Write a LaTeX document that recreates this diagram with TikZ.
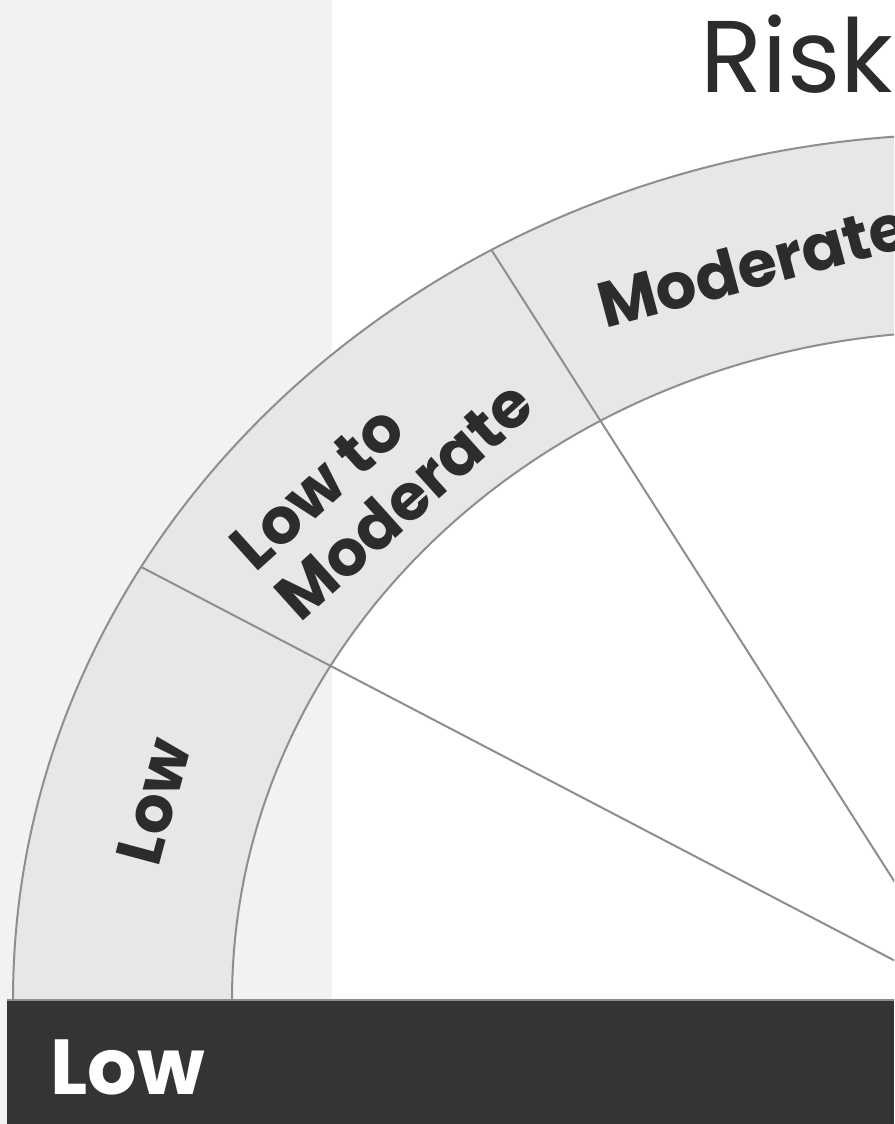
\documentclass[tikz,border=0pt]{standalone}
\usepackage{fontspec}
\setmainfont{Poppins}
\usetikzlibrary{calc}
\definecolor{panelgrey}{HTML}{F2F2F2}
\definecolor{bandgrey}{HTML}{E6E7E8}
\definecolor{rimgrey}{HTML}{8E8E8E}
\definecolor{bardark}{HTML}{353334}
\definecolor{inkdark}{HTML}{2D2B2C}
\tikzset{
  rim/.style={draw=rimgrey, line width=2pt},
  bandlabel/.style={text=inkdark, font=\bfseries\fontsize{64}{68}\selectfont, inner sep=0pt},
}
\begin{document}
\begin{tikzpicture}[x=1pt,y=1pt]
\useasboundingbox (0,0) rectangle (894,1124);
\clip (0,0) rectangle (894,1124);
\fill[white] (0,0) rectangle (894,1124);
\fill[panelgrey] (0,0) rectangle (332,1124);
\coordinate (C) at (970,124);
% band
\fill[bandgrey] ($(C)+(180:957pt and 866pt)$) arc[start angle=180,end angle=0,x radius=957pt,y radius=866pt]
  -- ($(C)+(0:738pt and 669pt)$) arc[start angle=0,end angle=180,x radius=738pt,y radius=669pt] -- cycle;
\draw[rim] ($(C)+(180:957pt and 866pt)$) arc[start angle=180,end angle=0,x radius=957pt,y radius=866pt];
\draw[rim] ($(C)+(180:738pt and 669pt)$) arc[start angle=180,end angle=0,x radius=738pt,y radius=669pt];
% segment boundaries
\coordinate (b1) at ($(C)+(150:957pt and 866pt)$);
\coordinate (b2) at ($(C)+(120:957pt and 866pt)$);
\draw[rim] (b1) -- (C);
\draw[rim] (b2) -- (C);
% bottom bar
\fill[bardark] (7,0) rectangle (894,124);
\draw[rimgrey, line width=1.5pt] (7,124) -- (894,124);
% labels
\node[bandlabel, rotate=75] (lLow) at ($(C)+(165:845pt and 767.5pt)$) {Low};
\node[bandlabel, rotate=42, align=left] (lLowMod) at ($(C)+(135:832pt and 742pt)$) {Low to\\Moderate};
\node[bandlabel, rotate=15, anchor=base west] (lMod) at (605,795) {Moderate};
\node[text=inkdark, font=\fontsize{102}{110}\selectfont, anchor=base west, inner sep=0pt] (title) at (700,1031) {Risk};
\node[text=white, font=\bfseries\fontsize{78}{88}\selectfont, anchor=base west, inner sep=0pt] (barLow) at (50,29) {Low};
\end{tikzpicture}
\end{document}
